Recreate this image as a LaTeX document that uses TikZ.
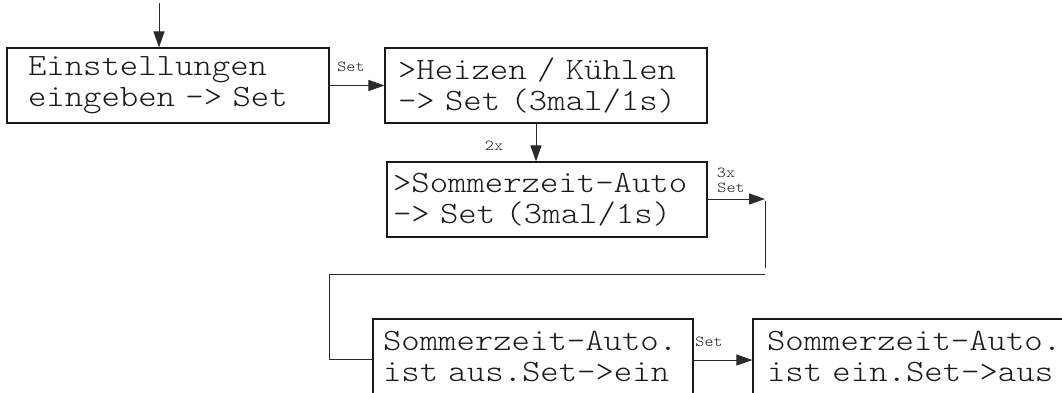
\documentclass[tikz,border=0pt]{standalone}
\usepackage{fontspec}
\usetikzlibrary{arrows.meta}
% light typewriter face, widened to a 0.6em advance (spaces included)
\newfontfamily\lcdfont{lmmonolt10-regular.otf}[FakeStretch=1.13, WordSpace={1.13,0,0}]
\definecolor{ink}{HTML}{1A1A1A}
\definecolor{wire}{HTML}{2A2A2A}
\tikzset{
  lcdbox/.style={draw=ink, line width=1.1pt, rectangle, align=left, text=ink,
    inner ysep=0pt, minimum height=75pt,
    font=\lcdfont\fontsize{31}{31}\selectfont},
  tag/.style={text=ink, inner sep=0pt, font=\lcdfont\fontsize{15.2}{15}\selectfont},
  flow/.style={draw=wire, line width=1pt, -{Triangle[length=16pt,width=11pt]}},
  wireline/.style={draw=wire, line width=1pt}
}
\begin{document}
\begin{tikzpicture}[x=1pt,y=-1pt]
\useasboundingbox (0,0) rectangle (1062,392);
\clip (0,0) rectangle (1062,392);

% menu screens
\node[lcdbox, inner xsep=21pt, text width=280pt] (b1) at (168,85.5)
  {Einstellungen\\eingeben -> Set};
\node[lcdbox, inner xsep=13pt, text width=296pt] (b2) at (546,85.5)
  {>Heizen / Kühlen\\-> Set (3mal/1s)};
\node[lcdbox, inner xsep=6pt, text width=308pt] (b3) at (547,199.5)
  {>Sommerzeit-Auto\\-> Set (3mal/1s)};
\node[lcdbox, inner xsep=10pt, text width=300pt] (b4) at (533,356.5)
  {Sommerzeit-Auto.\\ist aus.Set->ein};
\node[lcdbox, inner xsep=14pt, text width=300pt] (b5) at (917,356.5)
  {Sommerzeit-Auto.\\ist ein.Set->aus};

% entry
\coordinate (start) at (159,3);
\draw[flow] (start) -- (start |- b1.north);

% transitions
\draw[flow] (b1.east) -- (b2.west);
\node[tag] (s1) at (351,67) {Set};

\coordinate (d2) at (536,0);
\draw[flow] (d2 |- b2.south) -- (d2 |- b3.north);
\node[tag] (t2) at (494,146) {2x};

\coordinate (c1) at (765,199);
\draw[flow] (b3.east |- c1) -- (c1);
\node[tag] (t3a) at (726,173) {3x};
\node[tag] (t3b) at (731,188) {Set};

\coordinate (c2) at (765,201);
\coordinate (c3) at (765,268);
\draw[wireline] (c2) -- (c3);
\coordinate (c4) at (765,274);
\coordinate (c5) at (329,274);
\coordinate (c6) at (329,359);
\draw[wireline] (c4) -- (c5) -- (c6) -- (b4.west |- c6);

\coordinate (c7) at (700,360);
\draw[flow] (b4.east |- c7) -- (b5.west |- c7);
\node[tag] (s4) at (709,342) {Set};
\end{tikzpicture}
\end{document}
